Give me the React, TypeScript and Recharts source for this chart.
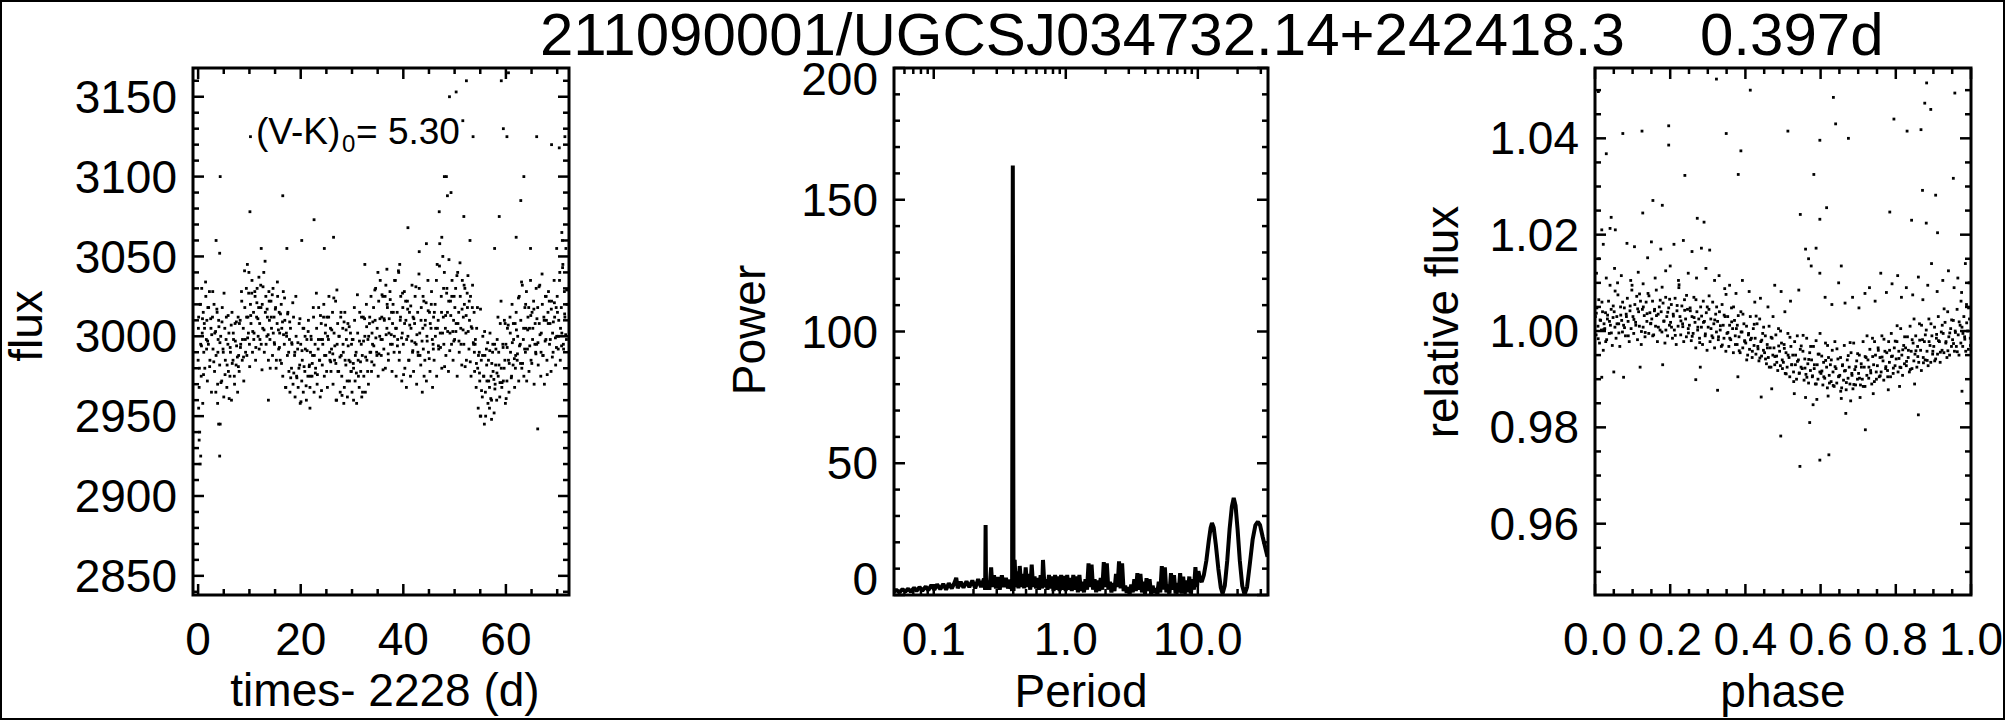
import React from "react";
import {
  ComposedChart,
  Line,
  ReferenceArea,
  Scatter,
  ScatterChart,
  XAxis,
  YAxis,
} from "recharts";

const FONT = '"Liberation Sans", Arial, Helvetica, sans-serif';
const W = 2005;
const H = 720;

// ---- light curve: [time - 2228 (d), flux] ----
const lightCurve: [number, number][] = [
  [0.0,2985],[0.1,3012],[0.2,2968],[0.3,2940],[0.4,3020],[0.5,2995],[0.6,2975],[0.7,3030],[0.8,3002],[0.9,2958],[1.0,3015],[1.1,2990],[1.2,3008],[1.3,2980],[1.5,3025],[1.6,2998],[1.7,3010],[1.8,2972],[1.9,3018],
  [2.0,2995],[2.2,3028],[2.3,2985],[2.5,3005],[2.6,2965],[2.8,3012],[2.9,2992],[3.1,3020],[3.2,2978],[3.4,3003],[3.5,2988],[3.7,3015],[3.8,2970],[3.9,2998],
  [4.0,3010],[4.2,2982],[4.3,2945],[4.4,3000],[4.6,2972],[4.7,3018],[4.9,2990],[5.0,2962],[5.2,3005],[5.3,2985],[5.5,3012],[5.6,2968],[5.8,2995],[5.9,2978],
  [6.0,3002],[6.2,2975],[6.3,2990],[6.5,2960],[6.6,3015],[6.8,2985],[6.9,2998],[7.1,2970],[7.2,3008],[7.4,2982],[7.5,2994],[7.7,2965],[7.8,3012],[7.9,2988],
  [8.0,2978],[8.2,3010],[8.3,2995],[8.5,3022],[8.6,2985],[8.8,3005],[8.9,2972],[9.1,3018],[9.2,2998],[9.4,3030],[9.5,2988],[9.7,3012],[9.8,3002],[9.9,3040],
  [10.0,2995],[10.2,3020],[10.3,3008],[10.5,3035],[10.6,2990],[10.8,3015],[10.9,3002],[11.1,3025],[11.2,2985],[11.4,3012],[11.5,3030],[11.7,3000],[11.8,3018],[11.9,2992],
  [12.0,3008],[12.2,3032],[12.3,2995],[12.5,3020],[12.6,3005],[12.8,3040],[12.9,2990],[13.1,3015],[13.2,3025],[13.4,3000],[13.5,3012],[13.7,2985],[13.8,3028],[13.9,3010],
  [14.0,2998],[14.2,3022],[14.3,3005],[14.5,2988],[14.6,3030],[14.8,3012],[14.9,2995],[15.1,3018],[15.2,2980],[15.4,3008],[15.5,3025],[15.7,2992],[15.8,3015],[15.9,3002],
  [16.0,2985],[16.2,3020],[16.3,3005],[16.5,2975],[16.6,3028],[16.8,2995],[16.9,3010],[17.1,2968],[17.2,3002],[17.4,2988],[17.5,3015],[17.7,2978],[17.8,2998],[17.9,2965],
  [18.0,3005],[18.2,2980],[18.3,2995],[18.5,2970],[18.6,3012],[18.8,2988],[18.9,2962],[19.1,3000],[19.2,2975],[19.4,2992],[19.5,2968],[19.7,3008],[19.8,2982],[19.9,2958],
  [20.0,2995],[20.2,2972],[20.3,2985],[20.5,2965],[20.6,3005],[20.8,2978],[20.9,2992],[21.1,2960],[21.2,2998],[21.4,2975],[21.5,3010],[21.7,2982],[21.8,2968],[21.9,2990],
  [22.0,3000],[22.2,2975],[22.3,2988],[22.5,3012],[22.6,2965],[22.8,2995],[22.9,2980],[23.1,3005],[23.2,2970],[23.4,2992],[23.5,3018],[23.7,2985],[23.8,2962],[23.9,2998],
  [24.0,3008],[24.2,2982],[24.3,2995],[24.5,3020],[24.6,2975],[24.8,3002],[24.9,2988],[25.1,3012],[25.2,2968],[25.4,2998],[25.5,3025],[25.7,2985],[25.8,3005],[25.9,2978],
  [26.0,2992],[26.2,3015],[26.3,2970],[26.5,3002],[26.6,2985],[26.8,3022],[26.9,2960],[27.1,2995],[27.2,3008],[27.4,2978],[27.5,3000],[27.7,2965],[27.8,3012],[27.9,2988],
  [28.0,2975],[28.2,3005],[28.3,2990],[28.5,2968],[28.6,3015],[28.8,2982],[28.9,2998],[29.1,2962],[29.2,3008],[29.4,2985],[29.5,2972],[29.7,3002],[29.8,2978],[29.9,2995],
  [30.0,2965],[30.2,2998],[30.3,2980],[30.5,3010],[30.6,2972],[30.8,2990],[30.9,2958],[31.1,3002],[31.2,2985],[31.4,2968],[31.5,3015],[31.7,2978],[31.8,2995],[31.9,2962],
  [32.0,2988],[32.2,3012],[32.3,2975],[32.5,3000],[32.6,2965],[32.8,3020],[32.9,2985],[33.1,2998],[33.2,2970],[33.4,3008],[33.5,2990],[33.7,3025],[33.8,2978],[33.9,3002],
  [34.0,2995],[34.2,3018],[34.3,2982],[34.5,3010],[34.6,3030],[34.8,2990],[34.9,3005],[35.1,2975],[35.2,3022],[35.4,3000],[35.5,3035],[35.7,2988],[35.8,3012],[35.9,2998],
  [36.0,3025],[36.2,2992],[36.3,3010],[36.5,2980],[36.6,3032],[36.8,3005],[36.9,3018],[37.1,2985],[37.2,3002],[37.4,3028],[37.5,2995],[37.7,3015],[37.8,2978],[37.9,3008],
  [38.0,3020],[38.2,2990],[38.3,3035],[38.5,3005],[38.6,2975],[38.8,3015],[38.9,2998],[39.1,3040],[39.2,2985],[39.4,3010],[39.5,3025],[39.7,2972],[39.8,3002],[39.9,3018],
  [40.0,2995],[40.2,3028],[40.3,2980],[40.5,3010],[40.6,2968],[40.8,3022],[40.9,3000],[41.1,2985],[41.2,3015],[41.4,2975],[41.5,3005],[41.7,3032],[41.8,2990],[41.9,3012],
  [42.0,2978],[42.2,3008],[42.3,3025],[42.5,2995],[42.6,2970],[42.8,3015],[42.9,2988],[43.1,3030],[43.2,3002],[43.4,2982],[43.5,3018],[43.7,2965],[43.8,3005],[43.9,2992],
  [44.0,3022],[44.2,2985],[44.3,3010],[44.5,2972],[44.6,3000],[44.8,3035],[44.9,2990],[45.1,3015],[45.2,2978],[45.4,3005],[45.5,3028],[45.7,2968],[45.8,2995],[45.9,3012],
  [46.0,2985],[46.2,3020],[46.3,3005],[46.5,2975],[46.6,3045],[46.8,3010],[46.9,2992],[47.1,3058],[47.2,3002],[47.4,3025],[47.5,2980],[47.7,3050],[47.8,3012],[47.9,2995],
  [48.0,3040],[48.2,3005],[48.3,2988],[48.5,3030],[48.6,3015],[48.8,2978],[48.9,3048],[49.1,3002],[49.2,3022],[49.4,2995],[49.5,3035],[49.7,2985],[49.8,3010],[49.9,3025],
  [50.0,2998],[50.2,3030],[50.3,3008],[50.5,2975],[50.6,3040],[50.8,3015],[50.9,2990],[51.1,3025],[51.2,3005],[51.4,2982],[51.5,3035],[51.7,3012],[51.8,2995],[51.9,3020],
  [52.0,3030],[52.2,3002],[52.3,2985],[52.5,3018],[52.6,3038],[52.8,2992],[52.9,3010],[53.1,3025],[53.2,2975],[53.4,3005],[53.5,3032],[53.7,2995],[53.8,3015],[53.9,2978],
  [54.0,2995],[54.2,2968],[54.3,3005],[54.5,2980],[54.6,2955],[54.8,2990],[54.9,2972],[55.1,2950],[55.2,2985],[55.4,2962],[55.5,3000],[55.7,2975],[55.8,2945],[55.9,2988],
  [56.0,2965],[56.2,2992],[56.3,2972],[56.5,2958],[56.6,2985],[56.8,2968],[56.9,3002],[57.1,2975],[57.2,2960],[57.4,2990],[57.5,2978],[57.7,2952],[57.8,2995],[57.9,2970],
  [58.0,2982],[58.2,2960],[58.3,2998],[58.5,2975],[58.6,2990],[58.8,2962],[58.9,3008],[59.1,2980],[59.2,2968],[59.4,2995],[59.5,2972],[59.7,3010],[59.8,2985],[59.9,2958],
  [60.0,2995],[60.2,2972],[60.3,3005],[60.5,2985],[60.6,2965],[60.8,3012],[60.9,2990],[61.1,2975],[61.2,3020],[61.4,2982],[61.5,2998],[61.7,2968],[61.8,3008],[61.9,2988],
  [62.0,3015],[62.2,2985],[62.3,3000],[62.5,2972],[62.6,3025],[62.8,2995],[62.9,3010],[63.1,2980],[63.2,3032],[63.4,2998],[63.5,2975],[63.7,3018],[63.8,2990],[63.9,3005],
  [64.0,3028],[64.2,2992],[64.3,3012],[64.5,2978],[64.6,3005],[64.8,3035],[64.9,2985],[65.1,3015],[65.2,2998],[65.4,3022],[65.5,2970],[65.7,3008],[65.8,2990],[65.9,3030],
  [66.0,2995],[66.2,3018],[66.3,2982],[66.5,3008],[66.6,3032],[66.8,2975],[66.9,3002],[67.1,3020],[67.2,2988],[67.4,3012],[67.5,2970],[67.7,3025],[67.8,2998],[67.9,3010],
  [68.0,2985],[68.2,3015],[68.3,3028],[68.5,2995],[68.6,3008],[68.8,2978],[68.9,3022],[69.1,3002],[69.2,2990],[69.4,3035],[69.5,3012],[69.7,2982],[69.8,3018],[69.9,3000],
  [70.0,3025],[70.2,2992],[70.3,3010],[70.5,3040],[70.6,2985],[70.8,3018],[70.9,3002],[71.1,3045],[71.2,2995],[71.4,3028],[71.5,3012],[71.7,3055],[71.8,2998],[71.9,3020],
];

const lightCurveB: [number, number][] = [
  [0.05,3005],[0.25,2980],[0.45,3020],[0.65,2994],[0.85,3011],[1.05,2976],[1.25,3005],[1.45,3034],[1.65,2992],[1.85,2997],
  [2.05,3018],[2.25,2981],[2.45,3011],[2.65,3001],[2.85,3028],[3.05,2984],[3.25,3002],[3.45,2965],[3.65,3017],[3.85,2990],
  [4.05,3006],[4.25,2996],[4.45,2971],[4.65,3009],[4.85,2992],[5.05,3027],[5.25,2976],[5.45,2998],[5.65,2982],[5.85,3013],
  [6.05,2961],[6.25,2993],[6.45,3007],[6.65,2983],[6.85,3002],[7.05,2975],[7.25,2997],[7.45,3009],[7.65,2987],[7.85,2981],
  [8.05,3008],[8.25,2993],[8.45,3028],[8.65,2998],[8.85,2987],[9.05,3041],[9.25,2990],[9.45,3012],[9.65,2999],[9.85,3027],
  [10.05,2981],[10.25,3013],[10.45,3027],[10.65,3003],[10.85,2998],[11.05,3028],[11.25,2993],[11.45,3021],[11.65,3011],[11.85,3037],
  [12.05,2998],[12.25,3018],[12.45,2979],[12.65,3031],[12.85,3004],[13.05,3047],[13.25,2995],[13.45,3017],[13.65,3001],[13.85,3022],
  [14.05,2980],[14.25,3012],[14.45,3026],[14.65,3002],[14.85,2996],[15.05,3017],[15.25,2985],[15.45,3034],[15.65,3004],[15.85,2993],
  [16.05,3014],[16.25,2983],[16.45,3009],[16.65,3001],[16.85,3024],[17.05,2968],[17.25,3000],[17.45,3014],[17.65,2990],[17.85,3009],
  [18.05,2974],[18.25,2996],[18.45,3021],[18.65,2977],[18.85,2990],[19.05,3025],[19.25,2974],[19.45,2996],[19.65,2980],[19.85,3011],
  [20.05,2959],[20.25,2991],[20.45,3005],[20.65,2981],[20.85,3000],[21.05,2969],[21.25,2991],[21.45,3003],[21.65,2981],[21.85,2975],
  [22.05,2998],[22.25,2983],[22.45,3018],[22.65,2988],[22.85,2977],[23.05,3027],[23.25,2976],[23.45,2998],[23.65,2985],[23.85,3013],
  [24.05,2966],[24.25,2998],[24.45,3012],[24.65,2988],[24.85,3007],[25.05,2978],[25.25,3000],[25.45,3012],[25.65,2990],[25.85,2984],
  [26.05,3004],[26.25,2989],[26.45,3024],[26.65,2994],[26.85,2983],[27.05,3029],[27.25,2978],[27.45,3000],[27.65,2987],[27.85,3015],
  [28.05,2963],[28.25,2995],[28.45,3009],[28.65,2985],[28.85,3004],[29.05,2972],[29.25,2994],[29.45,3006],[29.65,2984],[29.85,2978],
  [30.05,2998],[30.25,2983],[30.45,3018],[30.65,2988],[30.85,2977],[31.05,3026],[31.25,2975],[31.45,2997],[31.65,2984],[31.85,3012],
  [32.05,2965],[32.25,2997],[32.45,3011],[32.65,2987],[32.85,3006],[33.05,2978],[33.25,3000],[33.45,3012],[33.65,2990],[33.85,2984],
  [34.05,3009],[34.25,2994],[34.45,3029],[34.65,2999],[34.85,2988],[35.05,3040],[35.25,2989],[35.45,3011],[35.65,2998],[35.85,3026],
  [36.05,2979],[36.25,3011],[36.45,3025],[36.65,3001],[36.85,3020],[37.05,2989],[37.25,3011],[37.45,3023],[37.65,3001],[37.85,2995],
  [38.05,3015],[38.25,3000],[38.45,3035],[38.65,3005],[38.85,2994],[39.05,3041],[39.25,2990],[39.45,3012],[39.65,2999],[39.85,3027],
  [40.05,2976],[40.25,3008],[40.45,3022],[40.65,2998],[40.85,3017],[41.05,2985],[41.25,3007],[41.45,3019],[41.65,2997],[41.85,2991],
  [42.05,3011],[42.25,2996],[42.45,3031],[42.65,3001],[42.85,2990],[43.05,3039],[43.25,2988],[43.45,3010],[43.65,2997],[43.85,3025],
  [44.05,2975],[44.25,3007],[44.45,3021],[44.65,2997],[44.85,3016],[45.05,2986],[45.25,3008],[45.45,3020],[45.65,2998],[45.85,2992],
  [46.05,3015],[46.25,3000],[46.45,3035],[46.65,3005],[46.85,2994],[47.05,3044],[47.25,2993],[47.45,3015],[47.65,3002],[47.85,3030],
  [48.05,2981],[48.25,3013],[48.45,3027],[48.65,3003],[48.85,3022],[49.05,2991],[49.25,3013],[49.45,3025],[49.65,3003],[49.85,2997],
  [50.05,3018],[50.25,3003],[50.45,3038],[50.65,3008],[50.85,2997],[51.05,3046],[51.25,2995],[51.45,3017],[51.65,3004],[51.85,3032],
  [52.05,2981],[52.25,3013],[52.45,3027],[52.65,3003],[52.85,3022],[53.05,2984],[53.25,3006],[53.45,3018],[53.65,2996],[53.85,2990],
  [54.05,2998],[54.25,2983],[54.45,3018],[54.65,2988],[54.85,2977],[55.05,3017],[55.25,2966],[55.45,2988],[55.65,2975],[55.85,3003],
  [56.05,2950],[56.25,2982],[56.45,2996],[56.65,2972],[56.85,2991],[57.05,2961],[57.25,2983],[57.45,2995],[57.65,2973],[57.85,2967],
  [58.05,2992],[58.25,2977],[58.45,3012],[58.65,2982],[58.85,2971],[59.05,3022],[59.25,2971],[59.45,2993],[59.65,2980],[59.85,3008],
  [60.05,2961],[60.25,2993],[60.45,3007],[60.65,2983],[60.85,3002],[61.05,2974],[61.25,2996],[61.45,3008],[61.65,2986],[61.85,2980],
  [62.05,3004],[62.25,2989],[62.45,3024],[62.65,2994],[62.85,2983],[63.05,3034],[63.25,2983],[63.45,3005],[63.65,2992],[63.85,3020],
  [64.05,2972],[64.25,3004],[64.45,3018],[64.65,2994],[64.85,3013],[65.05,2983],[65.25,3005],[65.45,3017],[65.65,2995],[65.85,2989],
  [66.05,3011],[66.25,2996],[66.45,3031],[66.65,3001],[66.85,2990],[67.05,3039],[67.25,2988],[67.45,3010],[67.65,2997],[67.85,3025],
  [68.05,2976],[68.25,3008],[68.45,3022],[68.65,2998],[68.85,3017],[69.05,2987],[69.25,3009],[69.45,3021],[69.65,2999],[69.85,2993],
  [70.05,3015],[70.25,3000],[70.45,3035],[70.65,3005],[70.85,2994],[71.05,3043],[71.25,2992],[71.45,3014],[71.65,3001],[71.85,3029],
];

const lightCurveOutliers: [number, number][] = [
  [0.4,2920],[0.5,2925],[0.2,2935],[0.1,2955],[4.2,2925],[4.0,2945],[3.8,2958],[4.3,3100],[3.5,3060],[4.2,3052],
  [10.2,3125],[10.1,3078],[12.3,3055],[16.5,3088],[17.3,3055],[9.6,3045],[20.2,3060],[22.6,3073],[21.8,2955],[26.4,3062],
  [24.6,3055],[32.5,3045],[36.8,3042],[39.3,3045],[40.9,3068],[43.1,3053],[44.5,3058],[47.0,3078],[47.5,3062],[48.0,3100],
  [48.4,3100],[48.6,3088],[49.0,3150],[49.3,3090],[50.3,3153],[51.6,3135],[52.3,3160],[51.8,3075],[53.6,3125],[53.0,3060],
  [58.7,3075],[59.1,3160],[59.5,3130],[60.5,3165],[60.2,3125],[57.8,3055],[63.5,3100],[62.9,3085],[62.0,3062],[66.0,3125],
  [66.2,2942],[64.8,3055],[68.9,3120],[70.4,3118],[71.0,3060],[70.9,3065],[71.5,3125],[69.9,3055],[55.0,2950],[56.8,2955],
  [57.2,2948],[28.4,2958],[27.0,2960],[13.7,2960],[30.3,2960],
];

// ---- periodogram: [period (d), power] ----
const periodShort: [number, number][] = [
  [0.050,1.2],[0.052,2.0],[0.055,1.0],[0.058,2.2],[0.061,1.3],[0.064,2.4],[0.067,1.2],[0.071,2.8],[0.074,1.5],[0.078,3.0],
  [0.082,1.6],[0.087,3.2],[0.091,1.8],[0.096,3.8],[0.101,2.0],[0.106,4.0],[0.112,2.2],[0.118,4.2],[0.124,2.0],[0.130,4.5],
  [0.137,2.5],[0.144,4.8],[0.148,6.5],[0.152,2.6],[0.160,5.0],[0.168,2.8],[0.177,5.2],[0.186,3.0],[0.196,5.5],[0.206,2.5],
  [0.217,6.0],[0.228,3.0],[0.240,6.2],[0.245,2.0],[0.247,26.6],[0.249,2.0],[0.256,5.5],[0.264,2.0],[0.272,10.5],[0.278,3.0],
  [0.286,7.5],[0.296,2.5],[0.306,6.8],[0.316,2.0],[0.328,7.5],[0.340,3.0],[0.352,6.5],[0.365,2.5],[0.380,5.8],[0.392,1.5],
  [0.397,163],[0.402,1.5],[0.410,13.3],[0.418,3.0],[0.428,9.0],[0.438,2.5],[0.448,11.0],[0.460,3.0],[0.472,8.0],[0.484,2.5],
  [0.497,10.5],[0.510,3.0],[0.524,8.0],[0.538,2.0],[0.552,11.5],[0.566,3.0],[0.580,7.0],[0.596,2.5],[0.612,6.5],[0.628,2.0],
  [0.645,7.5],[0.662,2.5],[0.672,13.3],[0.690,3.0],[0.708,6.0],[0.727,2.0],[0.746,7.6],[0.766,2.5],[0.787,7.0],[0.808,1.5],
  [0.830,7.6],[0.852,2.0],[0.875,7.0],[0.898,1.5],[0.922,7.6],[0.947,2.0],[0.972,7.2],[0.998,1.5],[1.025,7.6],[1.053,2.0],
  [1.081,6.5],[1.110,1.5],[1.140,7.6],[1.171,2.0],[1.202,7.0],[1.235,1.0],[1.268,7.6],[1.302,1.5],[1.337,5.0],[1.373,1.0],
  [1.410,6.0],[1.448,2.0],[1.487,12.0],[1.527,3.0],[1.568,11.5],[1.610,2.0],[1.653,6.0],[1.698,1.0],[1.744,5.5],[1.791,1.5],
  [1.839,6.5],[1.889,2.0],[1.940,12.5],[1.992,3.0],[2.046,12.0],[2.101,2.0],[2.158,5.0],[2.216,1.0],[2.276,4.5],[2.337,1.5],
  [2.400,8.0],[2.465,3.0],[2.531,12.8],[2.600,2.5],[2.670,12.0],[2.742,1.5],[2.816,3.5],[2.892,0.8],[2.970,3.0],[3.050,0.5],
  [3.132,4.0],[3.217,1.0],[3.304,6.0],[3.393,1.5],[3.485,8.3],[3.579,2.0],[3.675,8.0],[3.775,1.0],[3.877,5.0],[3.981,0.5],
  [4.089,6.4],[4.199,1.5],[4.312,6.0],[4.429,0.5],[4.548,3.5],[4.671,0.8],[4.797,2.5],[4.927,0.5],[5.060,5.0],[5.196,1.0],
  [5.336,11.0],[5.481,2.0],[5.629,10.5],[5.781,1.0],[5.937,4.0],[6.097,0.5],[6.262,8.3],[6.431,2.0],[6.604,7.5],[6.782,0.5],
  [6.966,4.5],[7.154,1.0],[7.347,8.3],[7.545,0.5],[7.749,7.0],[7.958,0.5],[8.173,5.5],[8.393,1.0],[8.620,7.0],[8.853,0.5],
  [9.092,6.0],[9.337,2.0],[9.589,10.6],[9.848,3.0],
];

const periodLong: [number, number][] = [
  [10.1,9.0],[10.4,6.0],[10.7,5.0],[11.1,7.5],[11.6,13.0],[12.1,20.5],[12.5,25.5],[12.8,27.3],[13.2,25.5],[13.7,19.0],
  [14.3,10.0],[14.9,3.0],[15.4,0.5],[16.0,3.5],[16.7,13.0],[17.4,25.0],[18.1,33.5],[18.7,36.8],[19.3,34.0],[20.0,25.0],
  [20.8,13.0],[21.7,3.5],[22.6,0.2],[23.6,3.0],[24.8,12.0],[26.0,21.0],[27.3,26.5],[28.5,27.8],[29.6,26.5],[31.0,22.0],
  [32.4,18.0],[33.7,14.5],
];

// ---- phase-folded light curve: [phase, relative flux] ----
const phaseFold: [number, number][] = [
  [0.001,1.0030],[0.003,0.9992],[0.005,1.0048],[0.008,1.0010],[0.010,1.0065],[0.012,0.9975],[0.015,1.0022],[0.017,1.0002],[0.020,1.0040],[0.022,0.9960],[0.024,1.0015],
  [0.026,1.0005],[0.028,1.0038],[0.031,0.9982],[0.033,1.0025],[0.036,1.0062],[0.038,0.9995],[0.041,1.0012],[0.043,1.0045],[0.046,0.9970],[0.048,1.0028],
  [0.051,1.0040],[0.053,1.0008],[0.056,0.9985],[0.058,1.0030],[0.061,1.0075],[0.063,1.0015],[0.066,0.9968],[0.068,1.0050],[0.071,1.0022],[0.073,0.9998],
  [0.076,1.0012],[0.078,1.0048],[0.081,0.9990],[0.083,1.0035],[0.086,1.0068],[0.088,1.0020],[0.091,0.9978],[0.093,1.0042],[0.096,1.0005],[0.098,1.0085],
  [0.101,1.0030],[0.103,0.9995],[0.106,1.0055],[0.108,1.0018],[0.111,1.0072],[0.113,0.9982],[0.116,1.0040],[0.118,1.0010],[0.121,1.0062],[0.123,0.9972],
  [0.126,1.0045],[0.128,1.0008],[0.131,1.0032],[0.133,0.9988],[0.136,1.0060],[0.138,1.0020],[0.141,1.0078],[0.143,0.9995],[0.146,1.0038],[0.148,1.0015],
  [0.151,1.0025],[0.153,1.0062],[0.156,0.9992],[0.158,1.0042],[0.161,1.0010],[0.163,1.0085],[0.166,0.9978],[0.168,1.0035],[0.171,1.0050],[0.173,1.0002],
  [0.176,1.0040],[0.178,0.9998],[0.181,1.0058],[0.183,1.0020],[0.186,0.9975],[0.188,1.0070],[0.191,1.0030],[0.193,0.9990],[0.196,1.0048],[0.198,1.0012],
  [0.201,1.0018],[0.203,1.0055],[0.206,0.9985],[0.208,1.0035],[0.211,1.0002],[0.213,1.0068],[0.216,0.9972],[0.218,1.0042],[0.221,1.0010],[0.223,1.0090],
  [0.226,1.0030],[0.228,0.9992],[0.231,1.0052],[0.233,1.0015],[0.236,0.9978],[0.238,1.0065],[0.241,1.0025],[0.243,0.9988],[0.246,1.0045],[0.248,1.0005],
  [0.251,1.0012],[0.253,1.0048],[0.256,0.9980],[0.258,1.0030],[0.261,0.9995],[0.263,1.0070],[0.266,1.0018],[0.268,0.9965],[0.271,1.0040],[0.273,1.0002],
  [0.276,1.0025],[0.278,0.9985],[0.281,1.0050],[0.283,1.0008],[0.286,0.9972],[0.288,1.0062],[0.291,1.0020],[0.293,0.9990],[0.296,1.0038],[0.298,0.9960],
  [0.301,1.0008],[0.303,1.0045],[0.306,0.9978],[0.308,1.0025],[0.311,0.9990],[0.313,1.0060],[0.316,1.0015],[0.318,0.9965],[0.321,1.0035],[0.323,0.9998],
  [0.326,1.0020],[0.328,0.9982],[0.331,1.0040],[0.333,1.0002],[0.336,0.9968],[0.338,1.0055],[0.341,1.0012],[0.343,0.9985],[0.346,1.0030],[0.348,0.9958],
  [0.351,0.9995],[0.353,1.0030],[0.356,0.9968],[0.358,1.0012],[0.361,0.9982],[0.363,1.0048],[0.366,1.0005],[0.368,0.9955],[0.371,1.0022],[0.373,0.9990],
  [0.376,1.0005],[0.378,0.9972],[0.381,1.0032],[0.383,0.9988],[0.386,0.9955],[0.388,1.0040],[0.391,0.9998],[0.393,0.9965],[0.396,1.0015],[0.398,0.9980],
  [0.401,0.9975],[0.403,1.0010],[0.406,0.9950],[0.408,0.9992],[0.411,0.9962],[0.413,1.0030],[0.416,0.9985],[0.418,0.9945],[0.421,1.0005],[0.423,0.9970],
  [0.426,0.9985],[0.428,0.9952],[0.431,1.0015],[0.433,0.9968],[0.436,0.9938],[0.438,1.0025],[0.441,0.9978],[0.443,0.9948],[0.446,0.9995],[0.448,0.9960],
  [0.451,0.9955],[0.453,0.9990],[0.456,0.9932],[0.458,0.9972],[0.461,0.9945],[0.463,1.0010],[0.466,0.9965],[0.468,0.9925],[0.471,0.9985],[0.473,0.9950],
  [0.476,0.9965],[0.478,0.9930],[0.481,0.9992],[0.483,0.9948],[0.486,0.9918],[0.488,1.0005],[0.491,0.9958],[0.493,0.9928],[0.496,0.9975],[0.498,0.9940],
  [0.501,0.9935],[0.503,0.9972],[0.506,0.9912],[0.508,0.9955],[0.511,0.9925],[0.513,0.9995],[0.516,0.9945],[0.518,0.9905],[0.521,0.9968],[0.523,0.9930],
  [0.526,0.9950],[0.528,0.9915],[0.531,0.9978],[0.533,0.9930],[0.536,0.9900],[0.538,0.9990],[0.541,0.9940],[0.543,0.9912],[0.546,0.9962],[0.548,0.9925],
  [0.551,0.9922],[0.553,0.9958],[0.556,0.9898],[0.558,0.9942],[0.561,0.9910],[0.563,0.9985],[0.566,0.9932],[0.568,0.9892],[0.571,0.9955],[0.573,0.9918],
  [0.576,0.9940],[0.578,0.9905],[0.581,0.9968],[0.583,0.9922],[0.586,0.9890],[0.588,0.9980],[0.591,0.9930],[0.593,0.9900],[0.596,0.9952],[0.598,0.9915],
  [0.601,0.9912],[0.603,0.9948],[0.606,0.9888],[0.608,0.9935],[0.611,0.9902],[0.613,0.9975],[0.616,0.9925],[0.618,0.9882],[0.621,0.9945],[0.623,0.9908],
  [0.626,0.9930],[0.628,0.9895],[0.631,0.9960],[0.633,0.9915],[0.636,0.9885],[0.638,0.9978],[0.641,0.9922],[0.643,0.9892],[0.646,0.9942],[0.648,0.9905],
  [0.651,0.9908],[0.653,0.9945],[0.656,0.9882],[0.658,0.9928],[0.661,0.9898],[0.663,0.9970],[0.666,0.9918],[0.668,0.9878],[0.671,0.9940],[0.673,0.9902],
  [0.676,0.9925],[0.678,0.9890],[0.681,0.9955],[0.683,0.9912],[0.686,0.9880],[0.688,0.9975],[0.691,0.9920],[0.693,0.9888],[0.696,0.9938],[0.698,0.9900],
  [0.701,0.9912],[0.703,0.9950],[0.706,0.9888],[0.708,0.9932],[0.711,0.9900],[0.713,0.9978],[0.716,0.9925],[0.718,0.9885],[0.721,0.9945],[0.723,0.9908],
  [0.726,0.9940],[0.728,0.9902],[0.731,0.9962],[0.733,0.9918],[0.736,0.9890],[0.738,0.9985],[0.741,0.9930],[0.743,0.9895],[0.746,0.9950],[0.748,0.9915],
  [0.751,0.9928],[0.753,0.9965],[0.756,0.9905],[0.758,0.9945],[0.761,0.9915],[0.763,0.9990],[0.766,0.9938],[0.768,0.9898],[0.771,0.9958],[0.773,0.9922],
  [0.776,0.9955],[0.778,0.9918],[0.781,0.9978],[0.783,0.9935],[0.786,0.9905],[0.788,0.9995],[0.791,0.9948],[0.793,0.9912],[0.796,0.9965],[0.798,0.9928],
  [0.801,0.9942],[0.803,0.9978],[0.806,0.9915],[0.808,0.9958],[0.811,0.9925],[0.813,1.0005],[0.816,0.9950],[0.818,0.9908],[0.821,0.9970],[0.823,0.9932],
  [0.826,0.9965],[0.828,0.9928],[0.831,0.9988],[0.833,0.9945],[0.836,0.9915],[0.838,1.0010],[0.841,0.9958],[0.843,0.9922],[0.846,0.9975],[0.848,0.9938],
  [0.851,0.9952],[0.853,0.9990],[0.856,0.9925],[0.858,0.9968],[0.861,0.9935],[0.863,1.0015],[0.866,0.9960],[0.868,0.9918],[0.871,0.9982],[0.873,0.9945],
  [0.876,0.9978],[0.878,0.9940],[0.881,1.0002],[0.883,0.9958],[0.886,0.9928],[0.888,1.0025],[0.891,0.9970],[0.893,0.9935],[0.896,0.9990],[0.898,0.9952],
  [0.901,0.9968],[0.903,1.0008],[0.906,0.9942],[0.908,0.9985],[0.911,0.9952],[0.913,1.0030],[0.916,0.9978],[0.918,0.9935],[0.921,0.9998],[0.923,0.9960],
  [0.926,0.9995],[0.928,0.9955],[0.931,1.0018],[0.933,0.9975],[0.936,0.9945],[0.938,1.0040],[0.941,0.9988],[0.943,0.9950],[0.946,1.0005],[0.948,0.9968],
  [0.951,0.9982],[0.953,1.0022],[0.956,0.9958],[0.958,1.0000],[0.961,0.9968],[0.963,1.0045],[0.966,0.9992],[0.968,0.9950],[0.971,1.0012],[0.973,0.9975],
  [0.976,1.0008],[0.978,0.9968],[0.981,1.0030],[0.983,0.9988],[0.986,0.9958],[0.988,1.0055],[0.991,1.0000],[0.993,0.9962],[0.996,1.0025],[0.998,0.9985],
];

const phaseFoldB: [number, number][] = [
  [0.0035,1.0037],[0.0085,0.9984],[0.0135,1.0023],[0.0185,1.0060],[0.0235,1.0003],[0.0285,0.9978],[0.0335,1.0033],[0.0385,1.0020],[0.0435,0.9996],[0.0485,1.0052],
  [0.0535,1.0083],[0.0585,1.0015],[0.0635,0.9996],[0.0685,1.0033],[0.0735,1.0060],[0.0785,1.0007],[0.0835,1.0030],[0.0885,0.9990],[0.0935,1.0052],[0.0985,1.0095],
  [0.1035,1.0024],[0.1085,1.0012],[0.1135,1.0046],[0.1185,1.0077],[0.1235,0.9999],[0.1285,1.0050],[0.1335,0.9997],[0.1385,1.0036],[0.1435,1.0073],[0.1485,1.0016],
  [0.1535,0.9990],[0.1585,1.0045],[0.1635,1.0032],[0.1685,1.0008],[0.1735,1.0064],[0.1785,1.0091],[0.1835,1.0021],[0.1885,1.0002],[0.1935,1.0039],[0.1985,1.0066],
  [0.2035,1.0008],[0.2085,1.0031],[0.2135,0.9991],[0.2185,1.0053],[0.2235,1.0096],[0.2285,1.0021],[0.2335,1.0009],[0.2385,1.0043],[0.2435,1.0074],[0.2485,0.9996],
  [0.2535,1.0042],[0.2585,0.9989],[0.2635,1.0028],[0.2685,1.0065],[0.2735,1.0008],[0.2785,0.9976],[0.2835,1.0031],[0.2885,1.0018],[0.2935,0.9994],[0.2985,1.0050],
  [0.3035,1.0073],[0.3085,1.0005],[0.3135,0.9986],[0.3185,1.0023],[0.3235,1.0050],[0.3285,0.9988],[0.3335,1.0011],[0.3385,0.9971],[0.3435,1.0033],[0.3485,1.0076],
  [0.3535,0.9997],[0.3585,0.9985],[0.3635,1.0019],[0.3685,1.0050],[0.3735,0.9972],[0.3785,1.0012],[0.3835,0.9959],[0.3885,0.9998],[0.3935,1.0035],[0.3985,0.9978],
  [0.4035,0.9940],[0.4085,0.9995],[0.4135,0.9982],[0.4185,0.9958],[0.4235,1.0014],[0.4285,1.0031],[0.4335,0.9963],[0.4385,0.9944],[0.4435,0.9981],[0.4485,1.0008],
  [0.4535,0.9942],[0.4585,0.9965],[0.4635,0.9925],[0.4685,0.9987],[0.4735,1.0030],[0.4785,0.9947],[0.4835,0.9935],[0.4885,0.9969],[0.4935,1.0000],[0.4985,0.9922],
  [0.5035,0.9964],[0.5085,0.9911],[0.5135,0.9950],[0.5185,0.9987],[0.5235,0.9930],[0.5285,0.9895],[0.5335,0.9950],[0.5385,0.9937],[0.5435,0.9913],[0.5485,0.9969],
  [0.5535,0.9991],[0.5585,0.9923],[0.5635,0.9904],[0.5685,0.9941],[0.5735,0.9968],[0.5785,0.9907],[0.5835,0.9930],[0.5885,0.9890],[0.5935,0.9952],[0.5985,0.9995],
  [0.6035,0.9917],[0.6085,0.9905],[0.6135,0.9939],[0.6185,0.9970],[0.6235,0.9892],[0.6285,0.9940],[0.6335,0.9887],[0.6385,0.9926],[0.6435,0.9963],[0.6485,0.9906],
  [0.6535,0.9875],[0.6585,0.9930],[0.6635,0.9917],[0.6685,0.9893],[0.6735,0.9949],[0.6785,0.9976],[0.6835,0.9908],[0.6885,0.9889],[0.6935,0.9926],[0.6985,0.9953],
  [0.7035,0.9902],[0.7085,0.9925],[0.7135,0.9885],[0.7185,0.9947],[0.7235,0.9990],[0.7285,0.9925],[0.7335,0.9913],[0.7385,0.9947],[0.7435,0.9978],[0.7485,0.9900],
  [0.7535,0.9960],[0.7585,0.9907],[0.7635,0.9946],[0.7685,0.9983],[0.7735,0.9926],[0.7785,0.9905],[0.7835,0.9960],[0.7885,0.9947],[0.7935,0.9923],[0.7985,0.9979],
  [0.8035,1.0011],[0.8085,0.9943],[0.8135,0.9924],[0.8185,0.9961],[0.8235,0.9988],[0.8285,0.9937],[0.8335,0.9960],[0.8385,0.9920],[0.8435,0.9982],[0.8485,1.0025],
  [0.8535,0.9959],[0.8585,0.9947],[0.8635,0.9981],[0.8685,1.0012],[0.8735,0.9934],[0.8785,0.9992],[0.8835,0.9939],[0.8885,0.9978],[0.8935,1.0015],[0.8985,0.9958],
  [0.9035,0.9938],[0.9085,0.9993],[0.9135,0.9980],[0.9185,0.9956],[0.9235,1.0012],[0.9285,1.0046],[0.9335,0.9978],[0.9385,0.9959],[0.9435,0.9996],[0.9485,1.0023],
  [0.9535,0.9974],[0.9585,0.9997],[0.9635,0.9957],[0.9685,1.0019],[0.9735,1.0062],[0.9785,0.9995],[0.9835,0.9983],[0.9885,1.0017],[0.9935,1.0048],[0.9985,0.9970],
];

const phaseScatter: [number, number][] = [
  [0.004,1.0120],[0.010,1.0150],[0.018,1.0210],[0.022,1.0180],[0.030,1.0110],[0.040,1.0095],[0.052,1.0130],[0.060,1.0100],[0.070,1.0115],[0.085,1.0182],
  [0.095,1.0105],[0.105,1.0175],[0.115,1.0122],[0.128,1.0098],[0.140,1.0152],[0.150,1.0185],[0.160,1.0110],[0.175,1.0170],[0.188,1.0125],[0.200,1.0135],
  [0.210,1.0180],[0.222,1.0105],[0.235,1.0188],[0.248,1.0120],[0.258,1.0165],[0.270,1.0110],[0.283,1.0172],[0.295,1.0130],[0.305,1.0168],[0.318,1.0105],
  [0.330,1.0115],[0.345,1.0088],[0.358,1.0095],[0.375,1.0078],[0.392,1.0105],[0.410,1.0082],[0.425,1.0060],[0.440,1.0068],[0.460,1.0050],[0.478,1.0095],
  [0.495,1.0082],[0.505,1.0040],[0.520,1.0062],[0.542,1.0085],[0.560,1.0170],[0.568,1.0150],[0.575,1.0135],[0.588,1.0172],[0.598,1.0120],[0.612,1.0070],
  [0.630,1.0055],[0.648,1.0100],[0.655,1.0135],[0.665,1.0058],[0.685,1.0070],[0.702,1.0048],[0.718,1.0078],[0.730,1.0090],[0.745,1.0062],[0.760,1.0120],
  [0.775,1.0080],[0.790,1.0098],[0.805,1.0115],[0.815,1.0070],[0.828,1.0090],[0.845,1.0075],[0.860,1.0112],[0.872,1.0065],[0.885,1.0095],[0.895,1.0140],
  [0.910,1.0082],[0.925,1.0105],[0.940,1.0125],[0.955,1.0090],[0.965,1.0110],[0.975,1.0080],[0.985,1.0140],[0.995,1.0100],
  [0.470,0.9880],[0.530,0.9870],[0.560,0.9862],[0.590,0.9858],[0.620,0.9865],[0.655,0.9860],[0.680,0.9855],[0.705,0.9862],[0.740,0.9870],[0.780,0.9878],
  [0.810,0.9885],[0.850,0.9890],[0.050,0.9915],[0.120,0.9925],[0.180,0.9930],[0.280,0.9925],[0.380,0.9905],
];

const phaseOutliers: [number, number][] = [
  [0.323,1.0523],[0.413,1.0500],[0.634,1.0485],[0.882,1.0515],[0.957,1.0494],[0.893,1.0460],[0.877,1.0473],[0.795,1.0440],[0.640,1.0430],[0.196,1.0426],
  [0.196,1.0386],[0.125,1.0415],[0.074,1.0410],[0.349,1.0410],[0.513,1.0415],[0.598,1.0396],[0.674,1.0400],[0.830,1.0415],[0.867,1.0418],[0.009,1.0497],
  [0.030,1.0368],[0.388,1.0374],[0.239,1.0323],[0.381,1.0325],[0.582,1.0325],[0.953,1.0317],[0.871,1.0292],[0.906,1.0282],[0.154,1.0271],[0.179,1.0261],
  [0.127,1.0245],[0.546,1.0242],[0.598,1.0232],[0.616,1.0256],[0.272,1.0234],[0.290,1.0226],[0.784,1.0247],[0.842,1.0230],[0.881,1.0224],[0.911,1.0204],
  [0.043,1.0236],[0.054,1.0210],[0.040,1.0213],
  [0.545,0.9719],[0.598,0.9732],[0.622,0.9743],[0.494,0.9782],[0.571,0.9810],[0.719,0.9795],[0.860,0.9826],[0.442,0.9863],[0.326,0.9877],[0.268,0.9899],
  [0.076,0.9904],[0.018,0.9904],[0.976,0.9875],[0.667,0.9829],[0.580,0.9847],
];

// ---- axes ----
const timeDomain: [number, number] = [-1, 72.3];
const timeTicks = [0, 5, 10, 15, 20, 25, 30, 35, 40, 45, 50, 55, 60, 65, 70];
const timeMajor = [0, 20, 40, 60];
const fluxDomain: [number, number] = [2838, 3168];
const fluxTicks = [
  2840, 2850, 2860, 2870, 2880, 2890, 2900, 2910, 2920, 2930, 2940, 2950, 2960, 2970, 2980, 2990, 3000,
  3010, 3020, 3030, 3040, 3050, 3060, 3070, 3080, 3090, 3100, 3110, 3120, 3130, 3140, 3150, 3160,
];
const fluxMajor = [2850, 2900, 2950, 3000, 3050, 3100, 3150];

const periodDomain: [number, number] = [0.05, 34];
const periodTicks = [0.06, 0.07, 0.08, 0.09, 0.1, 0.2, 0.3, 0.4, 0.5, 0.6, 0.7, 0.8, 0.9, 1, 2, 3, 4, 5, 6, 7, 8, 9, 10, 20, 30];
const periodMajor = [0.1, 1, 10];
const powerDomain: [number, number] = [0, 200];
const powerTicks = [0, 10, 20, 30, 40, 50, 60, 70, 80, 90, 100, 110, 120, 130, 140, 150, 160, 170, 180, 190, 200];
const powerMajor = [0, 50, 100, 150, 200];

const phaseDomain: [number, number] = [0, 1];
const phaseTicks = [0, 0.05, 0.1, 0.15, 0.2, 0.25, 0.3, 0.35, 0.4, 0.45, 0.5, 0.55, 0.6, 0.65, 0.7, 0.75, 0.8, 0.85, 0.9, 0.95, 1];
const phaseMajor = [0, 0.2, 0.4, 0.6, 0.8, 1];
const relDomain: [number, number] = [0.9452, 1.0546];
const relTicks = [0.95, 0.955, 0.96, 0.965, 0.97, 0.975, 0.98, 0.985, 0.99, 0.995, 1, 1.005, 1.01, 1.015, 1.02, 1.025, 1.03, 1.035, 1.04, 1.045, 1.05];
const relMajor = [0.96, 0.98, 1, 1.02, 1.04];

type Box = { left: number; right: number; top: number; bottom: number };
const LEFT: Box = { left: 193, right: 569, top: 68, bottom: 595 };
const MID: Box = { left: 894, right: 1268, top: 68, bottom: 595 };
const RIGHT: Box = { left: 1595, right: 1971, top: 68, bottom: 595 };

const marginFor = (b: Box) => ({
  top: b.top - 1,
  bottom: H - b.bottom - 1,
  left: b.left - 1,
  right: W - b.right - 1,
});

type Side = "bottom" | "top" | "left" | "right";

function isMajor(v: number, majors: number[]) {
  return majors.some((m) => Math.abs(m - v) <= 1e-6 * Math.max(1, Math.abs(m)));
}

function tickRenderer(side: Side, majors: number[], fmt: ((v: number) => string) | null, box: Box) {
  return function TickMark(props: any) {
    const { x, y, payload } = props;
    const v = Number(payload.value);
    const major = isMajor(v, majors);
    const len = major ? 11 : 6;
    let mark;
    if (side === "bottom") mark = <line x1={x} y1={y} x2={x} y2={y - len} />;
    else if (side === "top") mark = <line x1={x} y1={y} x2={x} y2={y + len} />;
    else if (side === "left") mark = <line x1={x} y1={y} x2={x + len} y2={y} />;
    else mark = <line x1={x} y1={y} x2={x - len} y2={y} />;

    let label = null;
    if (major && fmt && side === "bottom") {
      label = (
        <text x={x} y={box.bottom + 60} textAnchor="middle">
          {fmt(v)}
        </text>
      );
    }
    if (major && fmt && side === "left") {
      // end labels are pulled inside the frame, as in the original
      const cy = Math.min(Math.max(y, box.top + 11), box.bottom - 16);
      label = (
        <text x={box.left - 16} y={cy} dy="0.35em" textAnchor="end">
          {fmt(v)}
        </text>
      );
    }
    return (
      <g>
        <g stroke="#000" strokeWidth={2.5}>{mark}</g>
        {label && (
          <g fill="#000" fontSize={46} fontFamily={FONT}>
            {label}
          </g>
        )}
      </g>
    );
  };
}

const axisBase = {
  type: "number" as const,
  allowDataOverflow: true,
  interval: 0 as const,
  tickSize: 0,
  tickMargin: 0,
  axisLine: false,
  tickLine: false,
};

const Dot = (p: any) => (
  <rect x={p.cx - 1.4} y={p.cy - 1.4} width={2.8} height={2.8} fill="#000" />
);

const lcData = [...lightCurve, ...lightCurveB, ...lightCurveOutliers].map(([t, f]) => ({ t, f }));
const pgData = [...periodShort, ...periodLong].map(([p, pw]) => ({ p, pw }));
const phData = [...phaseFold, ...phaseFoldB, ...phaseScatter, ...phaseOutliers].map(([ph, rf]) => ({ ph, rf }));

const abs: React.CSSProperties = { position: "absolute", left: 0, top: 0 };

export default function App() {
  return (
    <div
      style={{
        position: "fixed",
        left: 0,
        top: 0,
        width: W,
        height: H,
        background: "#fff",
        overflow: "hidden",
        fontFamily: FONT,
      }}
    >
      <div style={abs}>
        <ScatterChart width={W} height={H} margin={marginFor(LEFT)}>
          <XAxis {...axisBase} xAxisId="b" dataKey="t" domain={timeDomain} ticks={timeTicks} height={1}
            tick={tickRenderer("bottom", timeMajor, (v) => String(v), LEFT)} />
          <XAxis {...axisBase} xAxisId="t" orientation="top" dataKey="t" domain={timeDomain} ticks={timeTicks} height={1}
            tick={tickRenderer("top", timeMajor, null, LEFT)} />
          <YAxis {...axisBase} yAxisId="l" dataKey="f" domain={fluxDomain} ticks={fluxTicks} width={1}
            tick={tickRenderer("left", fluxMajor, (v) => String(v), LEFT)} />
          <YAxis {...axisBase} yAxisId="r" orientation="right" dataKey="f" domain={fluxDomain} ticks={fluxTicks} width={1}
            tick={tickRenderer("right", fluxMajor, null, LEFT)} />
          <ReferenceArea xAxisId="b" yAxisId="l" x1={timeDomain[0]} x2={timeDomain[1]} y1={fluxDomain[0]} y2={fluxDomain[1]}
            fill="none" fillOpacity={0} stroke="#000" strokeWidth={3} />
          <Scatter xAxisId="b" yAxisId="l" data={lcData} shape={Dot} isAnimationActive={false} />
        </ScatterChart>
      </div>

      <div style={abs}>
        <ComposedChart width={W} height={H} margin={marginFor(MID)} data={pgData}>
          <XAxis {...axisBase} xAxisId="b" dataKey="p" scale="log" domain={periodDomain} ticks={periodTicks} height={1}
            tick={tickRenderer("bottom", periodMajor, (v) => v.toFixed(1), MID)} />
          <XAxis {...axisBase} xAxisId="t" orientation="top" dataKey="p" scale="log" domain={periodDomain} ticks={periodTicks} height={1}
            tick={tickRenderer("top", periodMajor, null, MID)} />
          <YAxis {...axisBase} yAxisId="l" domain={powerDomain} ticks={powerTicks} width={1}
            tick={tickRenderer("left", powerMajor, (v) => String(v), MID)} />
          <YAxis {...axisBase} yAxisId="r" orientation="right" domain={powerDomain} ticks={powerTicks} width={1}
            tick={tickRenderer("right", powerMajor, null, MID)} />
          <ReferenceArea xAxisId="b" yAxisId="l" x1={periodDomain[0]} x2={periodDomain[1]} y1={powerDomain[0]} y2={powerDomain[1]}
            fill="none" fillOpacity={0} stroke="#000" strokeWidth={3} />
          <Line xAxisId="b" yAxisId="l" dataKey="pw" type="linear" stroke="#000" strokeWidth={4}
            strokeLinejoin="bevel" dot={false} activeDot={false} isAnimationActive={false} />
        </ComposedChart>
      </div>

      <div style={abs}>
        <ScatterChart width={W} height={H} margin={marginFor(RIGHT)}>
          <XAxis {...axisBase} xAxisId="b" dataKey="ph" domain={phaseDomain} ticks={phaseTicks} height={1}
            tick={tickRenderer("bottom", phaseMajor, (v) => v.toFixed(1), RIGHT)} />
          <XAxis {...axisBase} xAxisId="t" orientation="top" dataKey="ph" domain={phaseDomain} ticks={phaseTicks} height={1}
            tick={tickRenderer("top", phaseMajor, null, RIGHT)} />
          <YAxis {...axisBase} yAxisId="l" dataKey="rf" domain={relDomain} ticks={relTicks} width={1}
            tick={tickRenderer("left", relMajor, (v) => v.toFixed(2), RIGHT)} />
          <YAxis {...axisBase} yAxisId="r" orientation="right" dataKey="rf" domain={relDomain} ticks={relTicks} width={1}
            tick={tickRenderer("right", relMajor, null, RIGHT)} />
          <ReferenceArea xAxisId="b" yAxisId="l" x1={phaseDomain[0]} x2={phaseDomain[1]} y1={relDomain[0]} y2={relDomain[1]}
            fill="none" fillOpacity={0} stroke="#000" strokeWidth={3} />
          <Scatter xAxisId="b" yAxisId="l" data={phData} shape={Dot} isAnimationActive={false} />
        </ScatterChart>
      </div>

      <svg width={W} height={H} style={abs} fontFamily={FONT} fill="#000">
        <text x={540} y={55} fontSize={60}>211090001/UGCSJ034732.14+242418.3</text>
        <text x={1700} y={55} fontSize={60}>0.397d</text>

        <text fontSize={37}>
          <tspan x={256} y={144}>(V-K)</tspan>
          <tspan x={342} y={152} fontSize={24}>0</tspan>
          <tspan x={356} y={144}>= 5.30</tspan>
        </text>

        <text x={385} y={706} fontSize={46} textAnchor="middle">times- 2228 (d)</text>
        <text x={1081} y={707} fontSize={46} textAnchor="middle">Period</text>
        <text x={1783} y={707} fontSize={46} textAnchor="middle">phase</text>

        <text transform="translate(42 326) rotate(-90)" fontSize={46} textAnchor="middle">flux</text>
        <text transform="translate(765 330) rotate(-90)" fontSize={46} textAnchor="middle">Power</text>
        <text transform="translate(1458 322) rotate(-90)" fontSize={46} textAnchor="middle">relative flux</text>
      </svg>

      <div
        style={{
          position: "absolute",
          left: 0,
          top: 0,
          width: W,
          height: H,
          boxSizing: "border-box",
          border: "2px solid #000",
        }}
      />
    </div>
  );
}
